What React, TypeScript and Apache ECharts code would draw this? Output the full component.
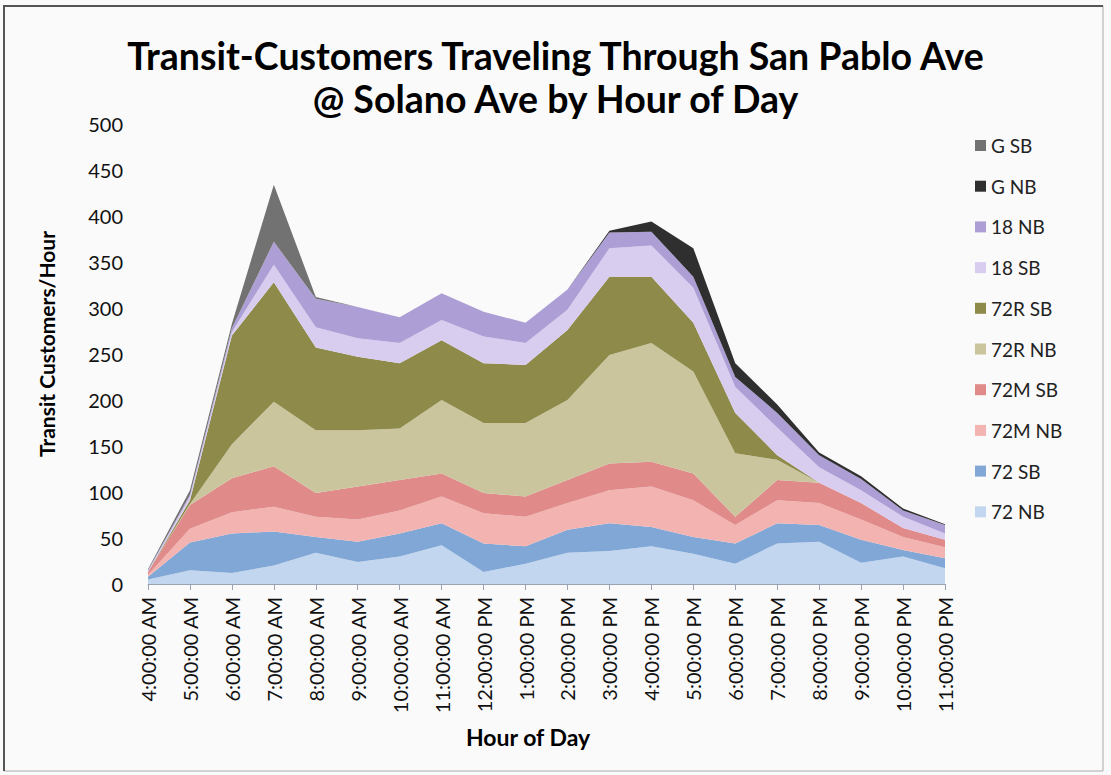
import React, { useEffect, useRef } from "react";
import * as echarts from "echarts";

const hours = [
  "4:00:00 AM", "5:00:00 AM", "6:00:00 AM", "7:00:00 AM", "8:00:00 AM",
  "9:00:00 AM", "10:00:00 AM", "11:00:00 AM", "12:00:00 PM", "1:00:00 PM",
  "2:00:00 PM", "3:00:00 PM", "4:00:00 PM", "5:00:00 PM", "6:00:00 PM",
  "7:00:00 PM", "8:00:00 PM", "9:00:00 PM", "10:00:00 PM", "11:00:00 PM",
];

const s72NB = [5, 15, 12, 20, 34, 24, 30, 42, 13, 22, 34, 36, 41, 33, 22, 44, 46, 23, 30, 17];
const s72SB = [3, 30, 43, 37, 17, 22, 25, 24, 31, 19, 25, 30, 21, 18, 22, 22, 18, 25, 7, 11];
const s72MNB = [2, 15, 23, 27, 22, 24, 25, 29, 33, 32, 29, 36, 44, 40, 20, 25, 24, 22, 14, 12];
const s72MSB = [3, 26, 37, 44, 26, 36, 33, 25, 22, 22, 25, 29, 27, 29, 9, 22, 22, 18, 10, 8];
const s72RNB = [0, 1, 37, 70, 68, 61, 56, 80, 76, 80, 87, 118, 129, 111, 69, 22, 0, 0, 0, 0];
const s72RSB = [0, 4, 118, 130, 90, 80, 71, 65, 65, 63, 76, 85, 72, 53, 44, 5, 0, 0, 0, 0];
const s18SB = [1, 4, 4, 19, 22, 20, 22, 22, 29, 24, 22, 31, 34, 38, 28, 30, 17, 14, 12, 7];
const s18NB = [1, 2, 4, 25, 31, 34, 28, 29, 27, 22, 22, 17, 15, 12, 11, 16, 13, 12, 7, 9];
const sGNB = [0, 0, 0, 0, 0, 0, 0, 0, 0, 0, 0, 2, 11, 31, 15, 9, 3, 3, 2, 1];
const sGSB = [1, 5, 5, 62, 2, 0, 0, 0, 0, 0, 0, 0, 0, 0, 0, 0, 0, 0, 0, 0];

const seriesDefs = [
  { name: "72 NB", data: s72NB, color: "#c2d6f0" },
  { name: "72 SB", data: s72SB, color: "#80a7d6" },
  { name: "72M NB", data: s72MNB, color: "#f2b3b1" },
  { name: "72M SB", data: s72MSB, color: "#e08a8a" },
  { name: "72R NB", data: s72RNB, color: "#cac59c" },
  { name: "72R SB", data: s72RSB, color: "#8d8a4a" },
  { name: "18 SB", data: s18SB, color: "#d8ccef" },
  { name: "18 NB", data: s18NB, color: "#ad9fd6" },
  { name: "G NB", data: sGNB, color: "#2f2f2f" },
  { name: "G SB", data: sGSB, color: "#727272" },
];

const yTicks = [0, 500, 50];

export default function App() {
  const ref = useRef<HTMLDivElement>(null);
  useEffect(() => {
    if (!ref.current) return;
    const chart = echarts.init(ref.current, null, { renderer: "svg" });
    const font = "Lato, 'Open Sans', sans-serif";
    chart.setOption({
      animation: false,
      backgroundColor: "#fafafa",
      textStyle: { fontFamily: font },
      title: {
        text: "Transit-Customers Traveling Through San Pablo Ave\n@ Solano Ave by Hour of Day",
        left: "center",
        top: 29,
        textStyle: {
          fontFamily: font,
          fontWeight: "bold",
          fontSize: 37.5,
          lineHeight: 43,
          color: "#000",
        },
      },
      legend: {
        orient: "vertical",
        left: 970,
        top: 131,
        itemWidth: 11,
        itemHeight: 11,
        itemGap: 21.7,
        icon: "rect",
        data: seriesDefs.map((s) => s.name).reverse(),
        textStyle: { fontFamily: font, fontSize: 19, lineHeight: 18, color: "#222" },
      },
      grid: { left: 148, right: 166, top: 124, bottom: 191, containLabel: false },
      xAxis: {
        type: "category",
        data: hours,
        boundaryGap: false,
        axisLine: { lineStyle: { color: "#9aa3b0", width: 1 } },
        axisTick: { show: true, length: 6, lineStyle: { color: "#9aa3b0" } },
        axisLabel: {
          rotate: 90,
          margin: 13,
          fontFamily: font,
          fontSize: 20,
          color: "#111",
        },
        splitLine: { show: false },
      },
      yAxis: {
        type: "value",
        min: yTicks[0],
        max: yTicks[1],
        interval: yTicks[2],
        axisLine: { show: false },
        axisTick: { show: false },
        axisLabel: { margin: 25, fontFamily: font, fontSize: 20, color: "#111" },
        splitLine: { show: false },
      },
      graphic: [
        {
          type: "rect",
          shape: { x: 4, y: 6, width: 1099, height: 765 },
          style: { fill: "none", stroke: "#aaaaaa", lineWidth: 1 },
          silent: true,
        },
        {
          type: "polyline",
          shape: { points: [[4, 771], [4, 6], [1103, 6]] },
          style: { fill: "none", stroke: "#555555", lineWidth: 2 },
          silent: true,
        },
        {
          type: "text",
          x: 46,
          y: 344,
          rotation: Math.PI / 2,
          silent: true,
          style: {
            text: "Transit Customers/Hour",
            fontFamily: font,
            fontWeight: "bold",
            fontSize: 21,
            fill: "#000",
            align: "center",
            verticalAlign: "middle",
          },
        },
        {
          type: "text",
          x: 528,
          y: 737,
          silent: true,
          style: {
            text: "Hour of Day",
            fontFamily: font,
            fontWeight: "bold",
            fontSize: 23,
            fill: "#000",
            align: "center",
            verticalAlign: "middle",
          },
        },
      ],
      series: seriesDefs.map((s) => ({
        name: s.name,
        type: "line",
        stack: "total",
        data: s.data,
        symbol: "none",
        showSymbol: false,
        lineStyle: { width: 0 },
        itemStyle: { color: s.color },
        areaStyle: { color: s.color, opacity: 1 },
        emphasis: { disabled: true },
      })),
    });
    return () => chart.dispose();
  }, []);
  return (
    <div
      ref={ref}
      style={{ position: "fixed", left: 0, top: 0, width: 1111, height: 775 }}
    />
  );
}
